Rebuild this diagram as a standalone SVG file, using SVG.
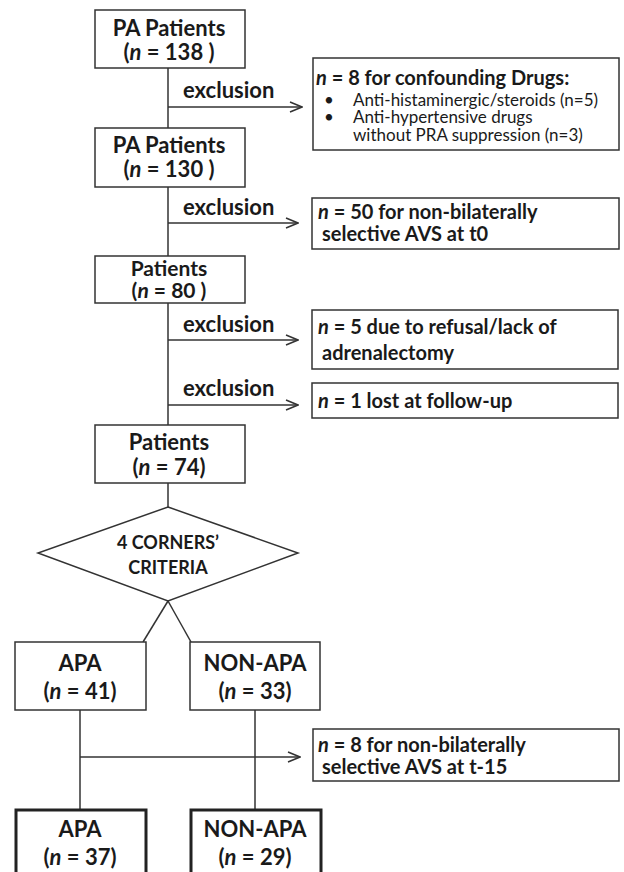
<svg xmlns="http://www.w3.org/2000/svg" width="624" height="872" viewBox="0 0 624 872">
<style>
.box{fill:#fff;stroke:#333;stroke-width:1.5}
.thick{fill:#fff;stroke:#222;stroke-width:3}
.ln{stroke:#333;stroke-width:1.5;fill:none}
text{font-family:Lato,"Open Sans","Liberation Sans",sans-serif;fill:#1a1a1a}
.t{font-size:22px;font-weight:700;text-anchor:middle}
.x{font-size:22px;font-weight:700}
.r{font-size:20px;font-weight:700}
.s{font-size:17px;font-weight:400}
.i{font-style:italic}
</style>
<defs>
<marker id="arr" markerWidth="14" markerHeight="12" refX="13" refY="6" orient="auto" markerUnits="userSpaceOnUse">
<polyline points="1,1 13,6 1,11" fill="none" stroke="#333" stroke-width="1.5"/>
</marker>
</defs>
<g id="connectors">
<line class="ln" x1="168" y1="68" x2="168" y2="128"/>
<line class="ln" x1="168" y1="187" x2="168" y2="256"/>
<line class="ln" x1="168" y1="303" x2="168" y2="425"/>
<line class="ln" x1="168" y1="483" x2="168" y2="507"/>
<line class="ln" x1="168" y1="107" x2="302" y2="107" marker-end="url(#arr)"/>
<line class="ln" x1="168" y1="223" x2="298" y2="223" marker-end="url(#arr)"/>
<line class="ln" x1="168" y1="340" x2="298" y2="340" marker-end="url(#arr)"/>
<line class="ln" x1="168" y1="405" x2="298" y2="405" marker-end="url(#arr)"/>
<line class="ln" x1="168" y1="601" x2="143" y2="642"/>
<line class="ln" x1="168" y1="601" x2="191" y2="642"/>
<line class="ln" x1="80" y1="710" x2="80" y2="810"/>
<line class="ln" x1="255" y1="710" x2="255" y2="810"/>
<line class="ln" x1="80" y1="757" x2="300" y2="757" marker-end="url(#arr)"/>
<text class="x" x="183" y="98">exclusion</text>
<text class="x" x="183" y="215">exclusion</text>
<text class="x" x="183" y="332">exclusion</text>
<text class="x" x="183" y="396">exclusion</text>
</g>
<g id="n138">
<rect class="box" x="95" y="10" width="150" height="58"/>
<text class="t" x="169" y="36">PA Patients</text>
<text class="t" x="169" y="60">(<tspan class="i">n</tspan> = 138 )</text>
</g>
<g id="ex1">
<rect class="box" x="313" y="58" width="306" height="92"/>
<text class="r" x="316" y="85"><tspan class="i">n</tspan> = 8 for confounding Drugs:</text>
<text class="s" x="324" y="106">•</text>
<text class="s" x="353" y="106">Anti-histaminergic/steroids (n=5)</text>
<text class="s" x="324" y="123">•</text>
<text class="s" x="353" y="123">Anti-hypertensive drugs</text>
<text class="s" x="353" y="141">without PRA suppression (n=3)</text>
</g>
<g id="n130">
<rect class="box" x="95" y="128" width="150" height="59"/>
<text class="t" x="169" y="153">PA Patients</text>
<text class="t" x="169" y="177">(<tspan class="i">n</tspan> = 130 )</text>
</g>
<g id="ex2">
<rect class="box" x="312" y="198" width="307" height="51"/>
<text class="r" x="318" y="219"><tspan class="i">n</tspan> = 50 for non-bilaterally</text>
<text class="r" x="322" y="241">selective AVS at t0</text>
</g>
<g id="n80">
<rect class="box" x="95" y="256" width="150" height="47"/>
<text class="t" x="169" y="276" style="font-size:21px">Patients</text>
<text class="t" x="169" y="298" style="font-size:21px">(<tspan class="i">n</tspan> = 80 )</text>
</g>
<g id="ex3">
<rect class="box" x="312" y="310" width="306" height="59"/>
<text class="r" x="318" y="334"><tspan class="i">n</tspan> = 5 due to refusal/lack of</text>
<text class="r" x="322" y="360">adrenalectomy</text>
</g>
<g id="ex4">
<rect class="box" x="312" y="383" width="306" height="35"/>
<text class="r" x="318" y="408"><tspan class="i">n</tspan> = 1 lost at follow-up</text>
</g>
<g id="n74">
<rect class="box" x="95" y="425" width="150" height="58"/>
<text class="t" x="169" y="450">Patients</text>
<text class="t" x="169" y="475">(<tspan class="i">n</tspan> = 74)</text>
</g>
<g id="criteria">
<polygon class="box" points="168,507 298,553 168,601 38,553"/>
<text class="t" x="168" y="549" style="font-size:18px">4 CORNERS’</text>
<text class="t" x="168" y="574" style="font-size:18px">CRITERIA</text>
</g>
<g id="apa41">
<rect class="box" x="15" y="642" width="131" height="68"/>
<text class="t" x="80" y="671">APA</text>
<text class="t" x="80" y="699">(<tspan class="i">n</tspan> = 41)</text>
</g>
<g id="nonapa33">
<rect class="box" x="190" y="642" width="130" height="68"/>
<text class="t" x="255" y="671">NON-APA</text>
<text class="t" x="255" y="699">(<tspan class="i">n</tspan> = 33)</text>
</g>
<g id="ex5">
<rect class="box" x="313" y="729" width="306" height="52"/>
<text class="r" x="318" y="752"><tspan class="i">n</tspan> = 8 for non-bilaterally</text>
<text class="r" x="322" y="774">selective AVS at t-15</text>
</g>
<g id="apa37">
<rect class="thick" x="16" y="810" width="130" height="70"/>
<text class="t" x="80" y="837">APA</text>
<text class="t" x="80" y="865">(<tspan class="i">n</tspan> = 37)</text>
</g>
<g id="nonapa29">
<rect class="thick" x="191" y="810" width="130" height="70"/>
<text class="t" x="255" y="837">NON-APA</text>
<text class="t" x="255" y="865">(<tspan class="i">n</tspan> = 29)</text>
</g>
</svg>
